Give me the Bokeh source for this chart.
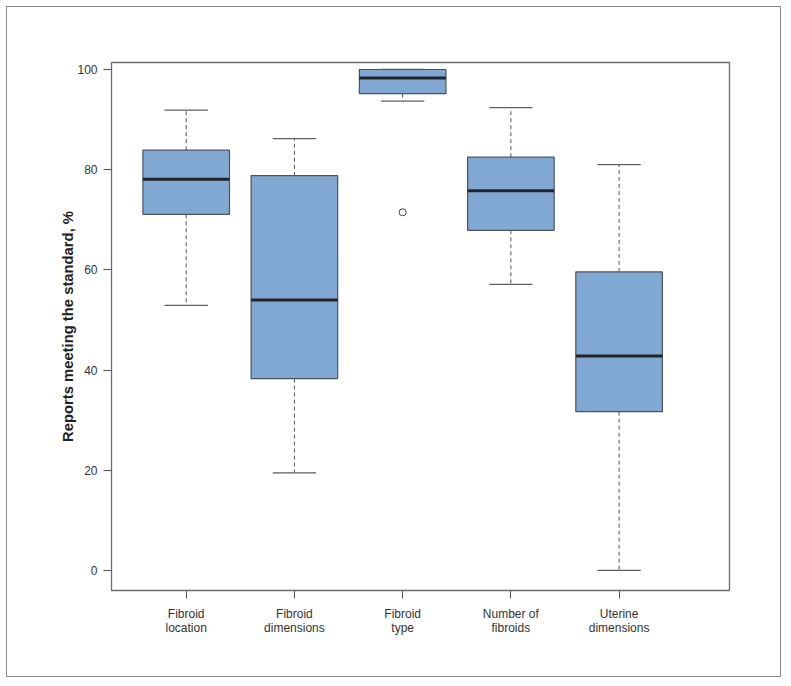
from bokeh.plotting import figure
from bokeh.models import Range1d, FixedTicker, ColumnDataSource
from bokeh.embed import file_html
from bokeh.resources import INLINE

categories = ["Fibroid\nlocation", "Fibroid\ndimensions", "Fibroid\ntype", "Number of\nfibroids", "Uterine\ndimensions"]
lower_whisker = [52.9, 19.5, 93.7, 57.1, 0.0]
q1 = [71.1, 38.3, 95.2, 67.9, 31.7]
median = [78.1, 54.0, 98.3, 75.8, 42.8]
q3 = [83.9, 78.8, 100.0, 82.5, 59.6]
upper_whisker = [91.9, 86.2, 100.0, 92.4, 81.0]
outlier_cat = [3]
outlier_val = [71.5]
y_ticks = [0, 20, 40, 60, 80, 100]

pos = list(range(1, len(categories) + 1))
box_w = 0.8
cap_w = 0.4

p = figure(width=775, height=671, output_backend="svg", toolbar_location=None,
           x_range=Range1d(0.31, 6.02), y_range=Range1d(-4.0, 101.4),
           min_border_left=104, min_border_right=53, min_border_top=55, min_border_bottom=88)
p.styles = {"border": "1px solid #8a8a8a", "margin-left": "6px", "margin-top": "6px"}
p.xgrid.visible = False
p.ygrid.visible = False
p.outline_line_color = "#6e6e6e"
p.outline_line_width = 1.3

src = ColumnDataSource(dict(x=pos, q1=q1, q3=q3, med=median, lw=lower_whisker, uw=upper_whisker,
                            x0=[x - box_w / 2 for x in pos], x1=[x + box_w / 2 for x in pos],
                            c0=[x - cap_w / 2 for x in pos], c1=[x + cap_w / 2 for x in pos]))

# whiskers (dashed)
p.segment(x0="x", y0="q3", x1="x", y1="uw", source=src, line_color="#555555", line_dash="4 3", line_width=1)
p.segment(x0="x", y0="q1", x1="x", y1="lw", source=src, line_color="#555555", line_dash="4 3", line_width=1)
# caps
p.segment(x0="c0", y0="uw", x1="c1", y1="uw", source=src, line_color="#5f5f5f", line_width=1.3)
p.segment(x0="c0", y0="lw", x1="c1", y1="lw", source=src, line_color="#5f5f5f", line_width=1.3)
# boxes
p.vbar(x="x", width=box_w, bottom="q1", top="q3", source=src, fill_color="#80a8d3",
       line_color="#4b5361", line_width=1.2)
# medians
p.segment(x0="x0", y0="med", x1="x1", y1="med", source=src, line_color="#222428", line_width=3)
# outlier
p.scatter(x=outlier_cat, y=outlier_val, size=7, fill_color="white", line_color="#444444",
          line_width=1, marker="circle")

font = "Liberation Sans"
p.xaxis.ticker = FixedTicker(ticks=pos)
p.xaxis.major_label_overrides = {x: c for x, c in zip(pos, categories)}
p.yaxis.ticker = FixedTicker(ticks=y_ticks)
p.yaxis.axis_label = "Reports meeting the standard, %"
p.yaxis.axis_label_text_font = font
p.yaxis.axis_label_text_font_style = "bold"
p.yaxis.axis_label_text_font_size = "14.8px"
p.yaxis.axis_label_text_color = "#222222"
p.yaxis.axis_label_standoff = -2
for ax in (p.xaxis, p.yaxis):
    ax.major_label_text_font = font
    ax.major_label_text_font_size = "12px"
    ax.major_label_text_color = "#333333"
    ax.axis_line_color = "#6e6e6e"
    ax.major_tick_line_color = "#555555"
    ax.major_tick_out = 8
    ax.major_tick_in = 0
    ax.minor_tick_line_color = None
    ax.major_label_standoff = 6
p.xaxis.major_label_standoff = 8
p.xaxis.major_label_text_line_height = 1.0

open("out.html", "w").write(file_html(p, INLINE))
